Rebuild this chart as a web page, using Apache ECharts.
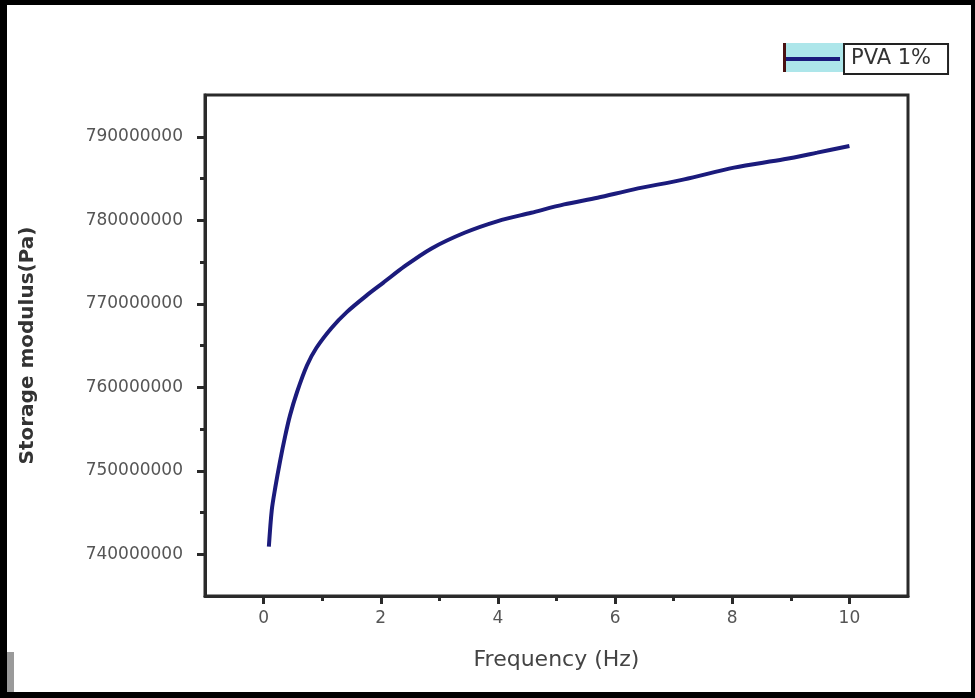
<!DOCTYPE html>
<html>
<head>
<meta charset="utf-8">
<script src="https://cdn.jsdelivr.net/npm/echarts@6/dist/echarts.min.js"></script>
<style>
  html, body { margin: 0; padding: 0; background: #000; }
  #wrap { width: 975px; height: 698px; box-sizing: border-box; background: #000;
          padding: 5px 4px 6px 7px; }
  #chart { width: 964px; height: 687px; background: #fff; }
</style>
</head>
<body>
<div id="wrap"><div id="chart"></div></div>
<script>
// Frequency (Hz)
const frequency = [0.09, 0.14, 0.2, 0.28, 0.37, 0.45, 0.57, 0.74, 0.9, 1.16, 1.42, 1.76, 2.04, 2.41, 2.86, 3.43, 4.0, 4.57, 5.13, 5.7, 6.32, 7.18, 8.03, 8.88, 9.45, 10.0];
// Storage modulus (Pa)
const storageModulus = [740.9e6, 745.3e6, 748.0e6, 751.1e6, 754.2e6, 756.6e6, 759.4e6, 762.6e6, 764.7e6, 767.1e6, 769.0e6, 771.0e6, 772.5e6, 774.5e6, 776.6e6, 778.5e6, 779.9e6, 780.9e6, 781.9e6, 782.7e6, 783.7e6, 784.9e6, 786.3e6, 787.3e6, 788.1e6, 788.9e6];
const seriesName = 'PVA 1%';
const xMajorTicks = [0, 2, 4, 6, 8, 10];
const xMinorTicks = [1, 3, 5, 7, 9];
const yMajorTicks = [740e6, 750e6, 760e6, 770e6, 780e6, 790e6];
const yMinorTicks = [745e6, 755e6, 765e6, 775e6, 785e6];

const points = frequency.map((f, i) => [f, storageModulus[i]]);
const axisColor = '#2a2a2a';
const font = 'DejaVu Sans';

const chart = echarts.init(document.getElementById('chart'));
chart.setOption({
  animation: false,
  backgroundColor: '#fff',
  grid: { left: 198, top: 90, right: 63, bottom: 96, show: true, borderColor: axisColor, borderWidth: 3, outerBoundsMode: 'none' },
  legend: {
    left: 776, top: 38, padding: 0, itemWidth: 57, itemHeight: 4, icon: 'rect',
    data: [seriesName],
    textStyle: { fontFamily: font, fontSize: 21, color: '#333', borderColor: '#222', borderWidth: 2,
                 backgroundColor: '#fff', padding: [3, 16, 3, 6], lineHeight: 22 }
  },
  xAxis: [{
    type: 'value', min: -1, max: 11, position: 'bottom',
    name: 'Frequency (Hz)', nameLocation: 'middle', nameGap: 53,
    nameTextStyle: { fontFamily: font, fontSize: 22, color: '#444' },
    axisLine: { show: true, onZero: false, lineStyle: { color: axisColor, width: 3 } },
    axisTick: { show: true, customValues: xMajorTicks, length: 8, lineStyle: { color: axisColor, width: 3 } },
    axisLabel: { customValues: xMajorTicks, margin: 14, fontFamily: font, fontSize: 17, color: '#555' },
    splitLine: { show: false }
  }, {
    type: 'value', min: -1, max: 11, position: 'bottom', gridIndex: 0,
    axisLine: { show: false, onZero: false },
    axisTick: { show: true, customValues: xMinorTicks, length: 5, lineStyle: { color: axisColor, width: 3 } },
    axisLabel: { show: false },
    splitLine: { show: false }
  }],
  yAxis: [{
    type: 'value', min: 735e6, max: 795e6, position: 'left',
    name: 'Storage modulus(Pa)', nameLocation: 'middle', nameGap: 167,
    nameTextStyle: { fontFamily: font, fontSize: 20, fontWeight: 'bold', color: '#333' },
    axisLine: { show: true, onZero: false, lineStyle: { color: axisColor, width: 3 } },
    axisTick: { show: true, customValues: yMajorTicks, length: 8, lineStyle: { color: axisColor, width: 3 } },
    axisLabel: { customValues: yMajorTicks, margin: 22, fontFamily: font, fontSize: 17, color: '#555',
                 formatter: v => String(Math.round(v)) },
    splitLine: { show: false }
  }, {
    type: 'value', min: 735e6, max: 795e6, position: 'left',
    axisLine: { show: false, onZero: false },
    axisTick: { show: true, customValues: yMinorTicks, length: 5, lineStyle: { color: axisColor, width: 3 } },
    axisLabel: { show: false },
    splitLine: { show: false }
  }],
  graphic: [
    { type: 'rect', z: 0, shape: { x: 776, y: 38, width: 62, height: 29 }, style: { fill: '#ade6ea' } },
    { type: 'rect', z: 100, shape: { x: 776, y: 38, width: 3, height: 29 }, style: { fill: '#4a1212' } },
    { type: 'rect', z: 100, shape: { x: 0, y: 647, width: 7, height: 40 }, style: { fill: '#9a9a9a' } }
  ],
  series: [{
    name: seriesName, type: 'line', data: points, smooth: 0.3,
    showSymbol: false, symbol: 'none',
    lineStyle: { color: '#1b1b7c', width: 4 },
    itemStyle: { color: '#1b1b7c' }
  }]
});
</script>
</body>
</html>
